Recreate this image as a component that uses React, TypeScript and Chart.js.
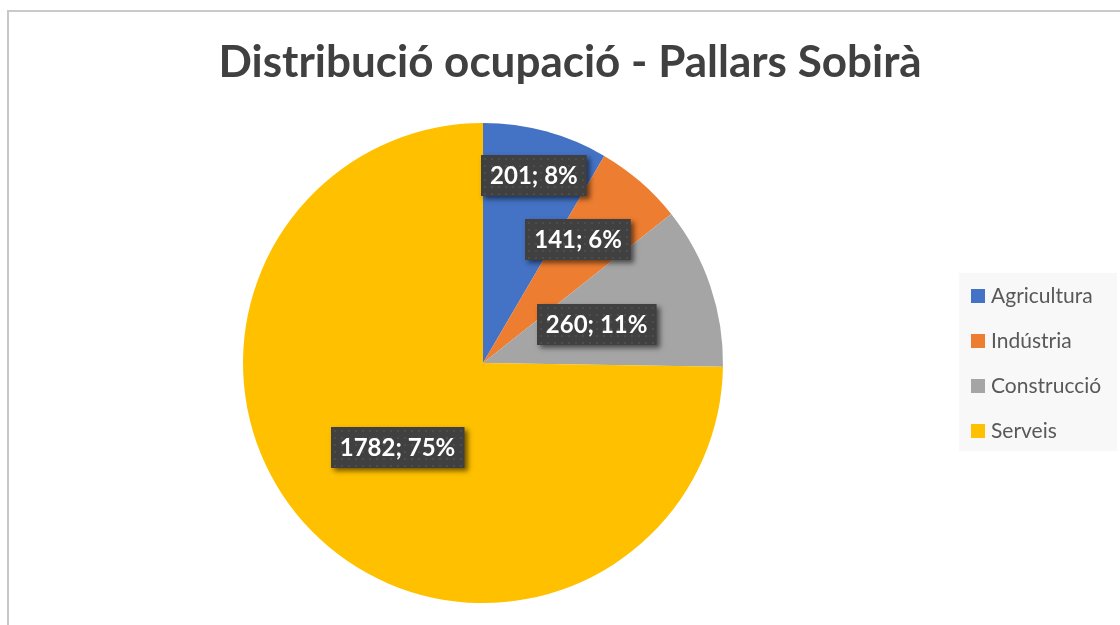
import React, { useEffect, useRef } from "react";
import { Chart, registerables } from "chart.js";

Chart.register(...registerables);

const TITLE = "Distribució ocupació - Pallars Sobirà";
const categories = ["Agricultura", "Indústria", "Construcció", "Serveis"];
const values = [201, 141, 260, 1782];
const colors = ["#4472C4", "#ED7D31", "#A5A5A5", "#FFC000"];
// radial placement of each data label as a fraction of the pie radius
const labelRadius = [0.81, 0.65, 0.5, 0.5];
// small angular nudge (radians) of each label from the slice bisector
const labelTurn = [0, -0.06, 0, 0];

const FONT = "Lato, 'Open Sans', 'DejaVu Sans', sans-serif";

const titlePlugin = {
  id: "customTitle",
  afterDraw(chart: any) {
    const ctx = chart.ctx;
    ctx.save();
    ctx.font = `bold 44px ${FONT}`;
    ctx.fillStyle = "#404040";
    ctx.textAlign = "center";
    ctx.textBaseline = "alphabetic";
    ctx.fillText(TITLE, 570, 77);
    ctx.restore();
  },
};

const legendPlugin = {
  id: "customLegend",
  afterDraw(chart: any) {
    const ctx = chart.ctx;
    ctx.save();
    ctx.fillStyle = "#f8f8f8";
    ctx.fillRect(959, 273, 158, 178);
    ctx.font = `21px ${FONT}`;
    ctx.textBaseline = "middle";
    ctx.textAlign = "left";
    categories.forEach((c, i) => {
      const top = 289 + i * 45;
      ctx.fillStyle = colors[i];
      ctx.fillRect(971, top, 14, 14);
      ctx.fillStyle = "#595959";
      ctx.fillText(c, 991, top + 7);
    });
    ctx.restore();
  },
};

const labelPlugin = {
  id: "customLabels",
  afterDatasetsDraw(chart: any) {
    const ctx = chart.ctx;
    const meta = chart.getDatasetMeta(0);
    const total = values.reduce((a, b) => a + b, 0);
    ctx.save();
    meta.data.forEach((el: any, i: number) => {
      const p = el.getProps(["x", "y", "startAngle", "endAngle", "outerRadius"], true);
      const mid = (p.startAngle + p.endAngle) / 2 + labelTurn[i];
      const r = p.outerRadius * labelRadius[i];
      const cx = p.x + Math.cos(mid) * r;
      const cy = p.y + Math.sin(mid) * r;
      const text = `${values[i]}; ${Math.round((values[i] / total) * 100)}%`;
      ctx.font = `bold 24px ${FONT}`;
      const tw = ctx.measureText(text).width;
      const w = tw + 18;
      const h = 41;
      const x0 = Math.round(cx - w / 2);
      const y0 = Math.round(cy - h / 2);
      ctx.save();
      ctx.shadowColor = "rgba(0,0,0,0.55)";
      ctx.shadowBlur = 5;
      ctx.shadowOffsetX = 3;
      ctx.shadowOffsetY = 3;
      ctx.fillStyle = "#404040";
      ctx.fillRect(x0, y0, w, h);
      ctx.restore();
      // dotted texture
      ctx.fillStyle = "rgba(255,255,255,0.07)";
      for (let yy = y0 + 3; yy < y0 + h - 1; yy += 7) {
        for (let xx = x0 + 3; xx < x0 + w - 1; xx += 7) {
          ctx.fillRect(xx, yy, 2, 2);
        }
      }
      ctx.fillStyle = "#ffffff";
      ctx.textAlign = "center";
      ctx.textBaseline = "middle";
      ctx.fillText(text, cx, cy + 1);
    });
    ctx.restore();
  },
};

export default function App() {
  const ref = useRef<HTMLCanvasElement | null>(null);
  useEffect(() => {
    if (!ref.current) return;
    const chart = new Chart(ref.current, {
      type: "pie",
      data: {
        labels: categories,
        datasets: [
          {
            data: values,
            backgroundColor: colors,
            borderWidth: 0,
          },
        ],
      },
      options: {
        responsive: false,
        animation: false,
        layout: { padding: { left: 243, right: 397, top: 123, bottom: 22 } },
        plugins: {
          legend: { display: false },
          title: { display: false },
          tooltip: { enabled: false },
        },
      },
      plugins: [titlePlugin, legendPlugin, labelPlugin],
    });
    return () => chart.destroy();
  }, []);

  return (
    <div style={{ position: "fixed", inset: 0, overflow: "hidden", background: "#fff" }}>
      <div
        style={{
          position: "absolute",
          left: 7,
          top: 10,
          width: 1200,
          height: 700,
          border: "2px solid #c9c9c9",
          boxSizing: "border-box",
        }}
      />
      <canvas
        ref={ref}
        width={1120}
        height={625}
        style={{ position: "absolute", left: 0, top: 0, width: 1120, height: 625 }}
      />
    </div>
  );
}
